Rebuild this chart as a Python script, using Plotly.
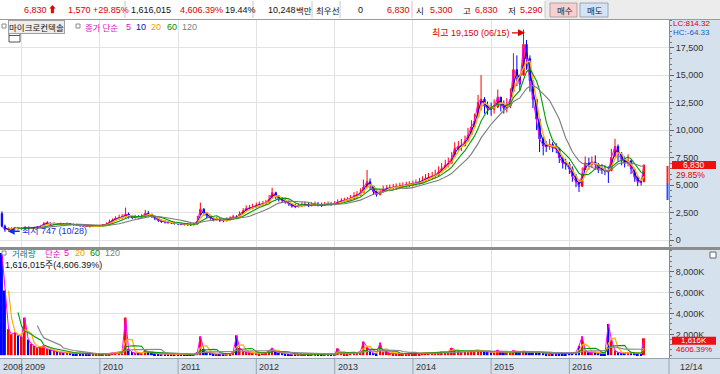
import pandas as pd
import plotly.graph_objects as go

# ---------------- data (semi-monthly samples, last = 2016-12-14) ----------------
dates = list(pd.date_range('2008-10-01', '2016-12-01', freq='SMS')) + [pd.Timestamp('2016-12-14')]

close_2008 = [1250, 950, 1000, 1050, 1100, 1050]
close_2009 = [1050, 1100, 1050, 1080, 1100, 1150, 1250, 1500, 1550, 1450, 1500, 1420,
              1450, 1400, 1480, 1420, 1400, 1350, 1300, 1280, 1250, 1220, 1250, 1280]
close_2010 = [1300, 1350, 1450, 1650, 1800, 1950, 2050, 2100, 2350, 2200, 2050, 2100,
              2050, 2150, 2400, 2350, 2150, 1950, 1800, 1700, 1650, 1600, 1550, 1500]
close_2011 = [1480, 1450, 1420, 1400, 1380, 1450, 1700, 2800, 2500, 2200, 2000, 1850,
              1900, 1800, 1750, 1850, 1950, 2100, 2050, 2350, 2650, 2850, 2900, 3000]
close_2012 = [3150, 3250, 3300, 3400, 3700, 4300, 4000, 3750, 3600, 3500, 3300, 3100,
              3050, 3100, 3200, 3250, 3150, 3200, 3250, 3200, 3150, 3250, 3300, 3250]
close_2013 = [3300, 3450, 3550, 3600, 3650, 3800, 4000, 4100, 4300, 4800, 5300, 5000,
              4400, 4150, 4300, 4600, 4700, 4750, 4800, 4850, 4900, 4950, 5000, 5050]
close_2014 = [5100, 5200, 5300, 5400, 5600, 5700, 5800, 5900, 6200, 6500, 6800, 7000,
              7400, 8300, 8500, 8600, 9000, 9500, 10300, 10800, 12500, 12800, 12200, 12000]
close_2015 = [11900, 12100, 13000, 12300, 12000, 12200, 12800, 15500, 15000, 14200, 17800, 16500,
              14500, 12800, 11000, 9200, 8600, 8500, 8700, 8400, 8300, 7500, 7000, 6900]
close_2016 = [6500, 5800, 5300, 4900, 6000, 7000, 6900, 7100, 6900, 6500, 6400, 6300,
              6200, 7500, 8500, 7800, 7300, 7000, 7200, 6500, 5700, 5300, 5260, 6830]

high_2008 = [2600, 1400, 1150, 1150, 1200, 1150]
high_2009 = [1150, 1200, 1150, 1180, 1200, 1250, 1380, 1650, 1720, 1600, 1620, 1550,
             1580, 1520, 1600, 1550, 1500, 1480, 1400, 1380, 1350, 1320, 1350, 1380]
high_2010 = [1400, 1450, 1600, 1850, 1950, 2150, 2300, 2350, 2950, 2500, 2250, 2300,
             2250, 2350, 2750, 2650, 2350, 2150, 1950, 1850, 1800, 1750, 1700, 1650]
high_2011 = [1620, 1580, 1550, 1520, 1500, 1600, 2200, 3400, 2900, 2550, 2300, 2050,
             2100, 2000, 1950, 2050, 2150, 2300, 2250, 2600, 2900, 3150, 3200, 3300]
high_2012 = [3400, 3500, 3550, 3650, 4100, 4760, 4400, 4050, 3900, 3800, 3600, 3350,
             3300, 3350, 3450, 3500, 3400, 3450, 3500, 3450, 3400, 3450, 3500, 3450]
high_2013 = [3550, 3700, 3800, 3850, 3900, 4100, 4350, 4450, 4700, 5500, 6370, 5600,
             4900, 4500, 4600, 4950, 5000, 5050, 5100, 5150, 5200, 5250, 5300, 5350]
high_2014 = [5400, 5500, 5650, 5800, 6000, 6100, 6200, 6400, 6700, 7000, 7300, 7500,
             8000, 8900, 9000, 9200, 9500, 10200, 10900, 11500, 13200, 15000, 13000, 12600]
high_2015 = [12500, 12800, 13700, 13000, 12700, 12900, 13800, 17000, 16800, 15000, 19150, 18200,
             16800, 14500, 12800, 11200, 9400, 9000, 9200, 8900, 8800, 8400, 7600, 7400]
high_2016 = [7100, 6700, 6000, 5500, 6600, 7600, 7500, 7600, 7700, 7000, 6900, 6800,
             6700, 8300, 9200, 8700, 8000, 7600, 7800, 7300, 6400, 5800, 5500, 6830]

low_2008 = [1150, 747, 850, 900, 950, 950]
low_2009 = [950, 1000, 980, 1000, 1020, 1050, 1150, 1300, 1400, 1350, 1380, 1350,
            1350, 1320, 1380, 1330, 1300, 1280, 1220, 1200, 1180, 1150, 1180, 1200]
low_2010 = [1220, 1250, 1350, 1450, 1650, 1750, 1850, 1900, 2050, 1950, 1900, 1950,
            1900, 2000, 2100, 2150, 2000, 1800, 1650, 1550, 1500, 1480, 1450, 1400]
low_2011 = [1380, 1350, 1320, 1300, 1280, 1330, 1450, 2300, 2200, 2000, 1850, 1700,
            1750, 1650, 1620, 1700, 1800, 1900, 1900, 2100, 2400, 2600, 2700, 2800]
low_2012 = [2950, 3050, 3100, 3200, 3400, 3800, 3700, 3500, 3400, 3300, 3100, 2950,
            2900, 2950, 3000, 3050, 3000, 3050, 3100, 3050, 3000, 3100, 3150, 3100]
low_2013 = [3150, 3250, 3350, 3400, 3450, 3600, 3750, 3850, 4000, 4300, 4800, 4600,
            4100, 3950, 4050, 4350, 4450, 4500, 4550, 4600, 4650, 4700, 4750, 4800]
low_2014 = [4850, 4950, 5050, 5150, 5300, 5400, 5500, 5600, 5800, 6100, 6400, 6600,
            6900, 7600, 8000, 8100, 8500, 9000, 9600, 10200, 11200, 11800, 11500, 11400]
low_2015 = [11300, 11500, 12000, 11700, 11500, 11600, 12000, 13500, 14000, 13600, 15000, 15500,
            13500, 12000, 10000, 8000, 7700, 8000, 8200, 8000, 7900, 7000, 6500, 6400]
low_2016 = [6000, 5300, 4800, 4370, 4800, 6400, 6400, 6600, 6400, 6100, 6000, 5900,
            5190, 6300, 7600, 7200, 6800, 6600, 6700, 6000, 5300, 4900, 4950, 5290]

first_open = 2400
last_open = 5300

# volume, thousands of shares
vol_2008 = [9800, 6200, 2500, 2000, 2200, 1900]
vol_2009 = [1800, 3600, 1500, 1100, 900, 700, 800, 900, 600, 500, 400, 350,
            300, 250, 250, 200, 180, 170, 160, 150, 140, 130, 120, 120]
vol_2010 = [110, 120, 140, 180, 220, 250, 300, 350, 3600, 600, 300, 200,
            250, 200, 450, 350, 200, 150, 130, 120, 110, 100, 100, 90]
vol_2011 = [90, 90, 80, 80, 80, 100, 300, 1800, 600, 300, 200, 150,
            150, 120, 120, 140, 160, 300, 1900, 700, 400, 300, 250, 200]
vol_2012 = [200, 180, 200, 250, 450, 700, 350, 250, 200, 160, 130, 110,
            100, 90, 100, 100, 90, 90, 100, 90, 90, 100, 110, 100]
vol_2013 = [130, 650, 200, 160, 160, 200, 280, 250, 350, 1300, 800, 450,
            200, 160, 1200, 300, 350, 200, 160, 150, 130, 150, 160, 150]
vol_2014 = [160, 170, 180, 200, 200, 220, 240, 240, 280, 320, 350, 350,
            700, 500, 350, 300, 350, 380, 420, 450, 500, 420, 350, 300]
vol_2015 = [280, 300, 500, 280, 250, 280, 300, 450, 350, 280, 400, 320,
            280, 250, 280, 300, 200, 170, 170, 150, 150, 170, 170, 150]
vol_2016 = [200, 200, 280, 900, 1800, 450, 280, 250, 280, 200, 170, 170,
            3000, 1500, 450, 280, 200, 200, 250, 280, 200, 170, 170, 1616]

year_ticks = ['2009-01-01', '2010-01-01', '2011-01-01', '2012-01-01',
              '2013-01-01', '2014-01-01', '2015-01-01', '2016-01-01']
year_labels = ['2009', '2010', '2011', '2012', '2013', '2014', '2015', '2016']
price_ticks = [0, 2500, 5000, 7500, 10000, 12500, 15000, 17500]
vol_ticks = [2000, 4000, 6000, 8000]
vol_tick_text = ['2,000K', '4,000K', '6,000K', '8,000K']

# ---------------- assemble ----------------
close = close_2008 + close_2009 + close_2010 + close_2011 + close_2012 + close_2013 + close_2014 + close_2015 + close_2016
high = high_2008 + high_2009 + high_2010 + high_2011 + high_2012 + high_2013 + high_2014 + high_2015 + high_2016
low = low_2008 + low_2009 + low_2010 + low_2011 + low_2012 + low_2013 + low_2014 + low_2015 + low_2016
vol = vol_2008 + vol_2009 + vol_2010 + vol_2011 + vol_2012 + vol_2013 + vol_2014 + vol_2015 + vol_2016
assert len(dates) == len(close) == len(high) == len(low) == len(vol)

opens = [first_open] + [min(max(c, l), h) for c, l, h in zip(close[:-1], low[1:], high[1:])]
opens[-1] = last_open

df = pd.DataFrame({'d': dates, 'o': opens, 'h': high, 'l': low, 'c': close, 'v': vol})
ma_spec = [(1, '#ff00ff', 1), (2, '#0000c8', 1), (3, '#ffb000', 1.4), (6, '#009a00', 1.1), (12, '#7a7a7a', 1.1)]
vma_spec = [(1, '#ff00ff', 1), (3, '#ffb000', 1.2), (6, '#009a00', 1.1), (12, '#8a8a8a', 1.2)]

RED = '#e00000'

fig = go.Figure()
fig.add_trace(go.Candlestick(
    x=df['d'], open=df['o'], high=df['h'], low=df['l'], close=df['c'],
    increasing=dict(line=dict(color='#ff0000', width=1), fillcolor='#ff0000'),
    decreasing=dict(line=dict(color='#0000ff', width=1), fillcolor='#0000ff'),
    whiskerwidth=0, xaxis='x', yaxis='y', hoverinfo='none'))
for w, col, lw in ma_spec:
    fig.add_trace(go.Scatter(x=df['d'], y=df['c'].rolling(w).mean(), mode='lines',
                             line=dict(color=col, width=lw), xaxis='x', yaxis='y', hoverinfo='skip'))

bar_cols = ['#ff0000' if c >= o else '#0000ff' for c, o in zip(df['c'], df['o'])]
fig.add_trace(go.Bar(x=df['d'], y=df['v'], marker=dict(color=bar_cols, line=dict(width=0)),
                     xaxis='x2', yaxis='y2', hoverinfo='skip'))
for w, col, lw in vma_spec:
    fig.add_trace(go.Scatter(x=df['d'], y=df['v'].rolling(w).mean(), mode='lines',
                             line=dict(color=col, width=lw), xaxis='x2', yaxis='y2', hoverinfo='skip'))

# ---------------- layout helpers (pixel -> paper) ----------------
PW = 669.0
def px(x):
    return x / PW
def py(y):
    return (358.0 - y) / 338.0

GRID = '#e2e2e2'
PANEL = '#d6e1ee'
FONT = 'Liberation Sans, Noto Sans CJK KR, sans-serif'
KFONT = 'Noto Sans CJK KR, Liberation Sans, sans-serif'

axis_common = dict(showgrid=True, gridcolor=GRID, gridwidth=1, zeroline=False)
fig.update_layout(
    width=720, height=374, margin=dict(l=0, r=51, t=20, b=16),
    paper_bgcolor='white', plot_bgcolor='white', showlegend=False,
    font=dict(family=FONT, size=9, color='#222'),
    bargap=0.3, hovermode=False,
    xaxis=dict(domain=[0, 1], range=['2008-09-22', '2017-04-10'], anchor='y', type='date',
               tickvals=year_ticks, showticklabels=False, ticks='', rangeslider=dict(visible=False),
               **axis_common),
    xaxis2=dict(domain=[0, 1], matches='x', anchor='y2', type='date',
                tickvals=year_ticks, showticklabels=False, ticks='', **axis_common),
    yaxis=dict(domain=[py(247), 1], range=[-637, 20020], side='right', anchor='x',
               tickvals=price_ticks, tickformat=',', ticks='outside', ticklen=4, tickcolor='#666',
               tickfont=dict(size=9, color='#333', family=FONT), showline=True, linecolor='#8a8a8a',
               minor=dict(ticks='outside', ticklen=2, dtick=500, tickcolor='#777'),
               **axis_common),
    yaxis2=dict(domain=[0, py(250)], range=[-268, 10087], side='right', anchor='x2',
                tickvals=vol_ticks, ticktext=vol_tick_text, ticks='outside', ticklen=4, tickcolor='#666',
                tickfont=dict(size=9, color='#333', family=FONT), showline=True, linecolor='#8a8a8a',
                minor=dict(ticks='outside', ticklen=2, dtick=500, tickcolor='#777'),
                **axis_common),
)

shapes = []
def prect(x0, y0, x1, y1, fill, line=None, layer='below', lw=1):
    shapes.append(dict(type='rect', xref='paper', yref='paper', x0=px(x0), x1=px(x1),
                       y0=py(y1), y1=py(y0), fillcolor=fill, layer=layer,
                       line=dict(color=line or 'rgba(0,0,0,0)', width=lw if line else 0)))
def pline(x0, y0, x1, y1, color, layer='above', w=1):
    shapes.append(dict(type='line', xref='paper', yref='paper', x0=px(x0), x1=px(x1),
                       y0=py(y0), y1=py(y1), layer=layer, line=dict(color=color, width=w)))

# top info bar
prect(0, 0, 720, 19, 'white')
prect(545, 0, 720, 19, '#ececec')
pline(0, 19.5, 720, 19.5, '#9a9a9a')
for sx in [125, 253, 312, 340, 412, 545]:
    pline(sx, 1, sx, 18, '#c8c8c8')
prect(550, 3, 577, 17, '#f6cfcf', '#b9a0a0', layer='above')
prect(580, 3, 608, 17, '#d4e3f6', '#9aa6b8', layer='above')

# right axis panel and bottom band
prect(669, 20, 720, 374, PANEL)
prect(0, 358, 720, 374, PANEL)
pline(0, 358.5, 720, 358.5, '#9aa3ad')
prect(0, 247, 720, 250, '#8c8c8c', layer='above')
pline(669, 358, 669, 374, '#9aa3ad')
for t in year_ticks:
    shapes.append(dict(type='line', xref='x', yref='paper', x0=t, x1=t, y0=py(374), y1=py(358),
                       line=dict(color='#9aa3ad', width=1), layer='above'))

# legend squares / icons
for (sx, sy) in [(2, 24), (76, 24), (2, 251)]:
    prect(sx, sy, sx + 4, sy + 4, 'white', '#8a8a8a', layer='above')
prect(9, 33, 20, 42, 'white', '#555', layer='above')
pline(9, 35.5, 20, 35.5, '#555')
prect(710, 252, 716, 258, 'white', '#666', layer='above')

# price range indicator at right edge
shapes.append(dict(type='rect', xref='paper', yref='y', x0=px(666.5), x1=px(668.5), y0=5190, y1=6740,
                   fillcolor='#ff2020', line=dict(width=0), layer='above'))
shapes.append(dict(type='rect', xref='paper', yref='y', x0=px(666.5), x1=px(668.5), y0=3640, y1=5190,
                   fillcolor='#2050ff', line=dict(width=0), layer='above'))
# current price / volume boxes
shapes.append(dict(type='rect', xref='paper', yref='y', x0=px(672), x1=px(716),
                   y0=close[-1] - 370, y1=close[-1] + 370, fillcolor='#ee1111', line=dict(width=0), layer='above'))
shapes.append(dict(type='rect', xref='paper', yref='y2', x0=px(672), x1=px(716),
                   y0=1000, y1=1765, fillcolor='#ee1111', line=dict(width=0), layer='above'))

ann = []
def ptext(text, x, y, color='#111', size=9, xanchor='left', family=FONT, **kw):
    ann.append(dict(text=text, xref='paper', yref='paper', x=px(x), y=py(y), xanchor=xanchor,
                    yanchor='middle', showarrow=False, font=dict(color=color, size=size, family=family), **kw))

top_items = [('6,830', 22, RED), ('⬆', 46, RED), ('1,570', 66, RED), ('+29.85%', 91, RED),
             ('1,616,015', 129, '#111'), ('4,606.39%', 178, RED), ('19.44%', 223, '#111'),
             ('10,248', 266, '#111'), ('0', 356, '#111'), ('6,830', 385, RED),
             ('5,300', 428, RED), ('6,830', 473, RED), ('5,290', 518, RED)]
for t, x, c in top_items:
    ptext(t, x, 10, c, size=9)
top_k = [('백만', 294, '#111'), ('최우선', 314, '#111'), ('시', 414, '#111'), ('고', 461, '#111'),
         ('저', 506, '#111'), ('매수', 555, '#222'), ('매도', 585, '#222')]
for t, x, c in top_k:
    ptext(t, x, 10, c, size=8.5, family=KFONT)

ptext('마이크로컨텍솔', 8, 26.5, '#111', size=8.5, family=KFONT, bgcolor='#ededed',
      bordercolor='#a0a0a0', borderwidth=1, borderpad=0)
leg1 = [('종가 단순', 83, '#e010c0', KFONT), ('5', 124, '#e010c0', FONT), ('10', 134, '#0010c0', FONT),
        ('20', 149, '#f0a000', FONT), ('60', 165, '#008a00', FONT), ('120', 180, '#808080', FONT)]
for t, x, c, f in leg1:
    ptext(t, x, 26.5, c, size=8.5 if f == KFONT else 9, family=f)
leg2 = [('거래량', 10, '#008080', KFONT), ('단순', 43, '#e010c0', KFONT), ('5', 62, '#e010c0', FONT),
        ('20', 73, '#f0a000', FONT), ('60', 88, '#008a00', FONT), ('120', 103, '#808080', FONT)]
for t, x, c, f in leg2:
    ptext(t, x, 253.5, c, size=8.5 if f == KFONT else 9, family=f)
ptext('1,616,015주(4,606.39%)', 3, 264.5, '#111', size=9)

ptext('LC:814.32', 671, 24, '#e00000', size=8)
ptext('HC:-64.33', 671, 32.5, '#1060d0', size=8)
ptext('2008', 1, 366.5, '#333', size=9)
for t, lab in zip(year_ticks, year_labels):
    ann.append(dict(text=lab, xref='x', yref='paper', x=t, y=py(366.5), xanchor='left', yanchor='middle',
                    xshift=1, showarrow=False, font=dict(color='#333', size=9, family=FONT)))
ptext('12/14', 678, 366.5, '#333', size=9)

# axis value markers
ann.append(dict(text='{:,}'.format(close[-1]), xref='paper', yref='y', x=px(694), y=close[-1], xanchor='center',
                yanchor='middle', showarrow=False, font=dict(color='white', size=8.5, family=FONT)))
ann.append(dict(text='29.85%', xref='paper', yref='y', x=px(674), y=5950, xanchor='left',
                yanchor='middle', showarrow=False, font=dict(color=RED, size=8.5, family=FONT)))
ann.append(dict(text='{:,}K'.format(vol[-1]), xref='paper', yref='y2', x=px(694), y=1382, xanchor='center',
                yanchor='middle', showarrow=False, font=dict(color='white', size=8, family=FONT)))
ann.append(dict(text='4606.39%', xref='paper', yref='y2', x=px(674), y=560, xanchor='left',
                yanchor='middle', showarrow=False, font=dict(color=RED, size=8, family=FONT)))

# high / low markers
ann.append(dict(text='최고 19,150 (06/15)', xref='x', yref='y', x='2015-06-08', y=18850, ax=-13, ay=0,
                xanchor='right', yanchor='middle', showarrow=True, arrowhead=2, arrowsize=1, arrowwidth=1.4,
                arrowcolor=RED, font=dict(color=RED, size=9, family=FONT)))
ann.append(dict(text='최저 747 (10/28)', xref='x', yref='y', x='2008-10-28', y=800, ax=12, ay=0,
                xanchor='left', yanchor='middle', showarrow=True, arrowhead=2, arrowsize=1, arrowwidth=1.4,
                arrowcolor='#1030e0', font=dict(color='#1030e0', size=9, family=FONT)))

fig.update_layout(shapes=shapes, annotations=ann)
fig.write_html('out.html', config={'displayModeBar': False})
